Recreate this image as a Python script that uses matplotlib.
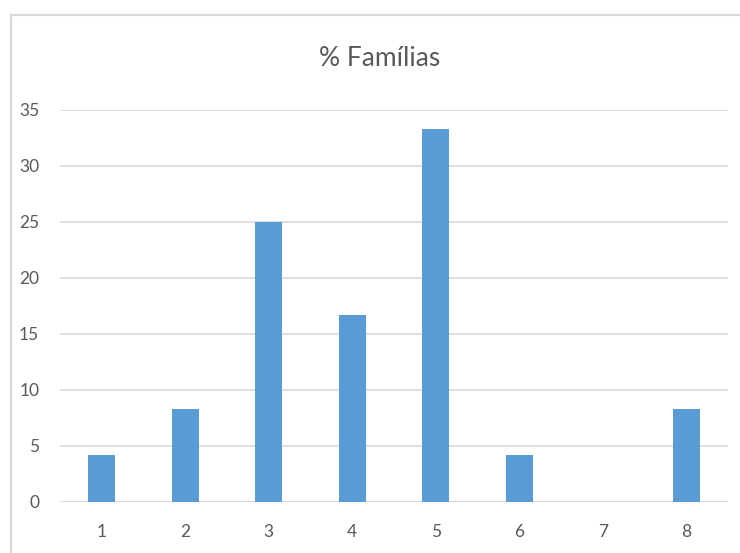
import matplotlib
matplotlib.use("Agg")
import matplotlib.pyplot as plt
from matplotlib.patches import Rectangle

categories = ["1", "2", "3", "4", "5", "6", "7", "8"]
values = [4.17, 8.33, 25.0, 16.67, 33.33, 4.17, 0.0, 8.33]
yticks = [0, 5, 10, 15, 20, 25, 30, 35]
title = "% Famílias"

plt.rcParams['font.family'] = ['Lato', 'DejaVu Sans']
text_color = '#595959'
grid_color = '#d9d9d9'
bar_color = '#5b9bd5'

fig = plt.figure(figsize=(7.40, 5.53), dpi=100)
fig.patches.append(Rectangle((11/740, -0.05), 1.2, (553-15)/553 + 0.05,
                             transform=fig.transFigure, fill=False,
                             edgecolor=grid_color, linewidth=1.5))
ax = fig.add_axes([60/740, 51/553, 668/740, 392/553])
x = list(range(len(categories)))
ax.bar(x, values, width=0.32, color=bar_color, zorder=3)
ax.set_xlim(-0.5, len(categories) - 0.5)
ax.set_ylim(0, 35)
ax.set_yticks(yticks)
ax.set_xticks(x)
ax.set_xticklabels(categories)
ax.yaxis.grid(True, color=grid_color, linewidth=1.2, zorder=0)
for s in ax.spines.values():
    s.set_visible(False)
ax.tick_params(axis='both', length=0, labelsize=12.5, colors=text_color)
ax.tick_params(axis='y', pad=15)
ax.tick_params(axis='x', pad=16)
ax.axhline(0, color=grid_color, linewidth=1.2, zorder=2)
fig.text(380/740, 1 - 58/553, title, ha='center', va='center',
         fontsize=19, color=text_color)
fig.savefig("out.png", dpi=100)
